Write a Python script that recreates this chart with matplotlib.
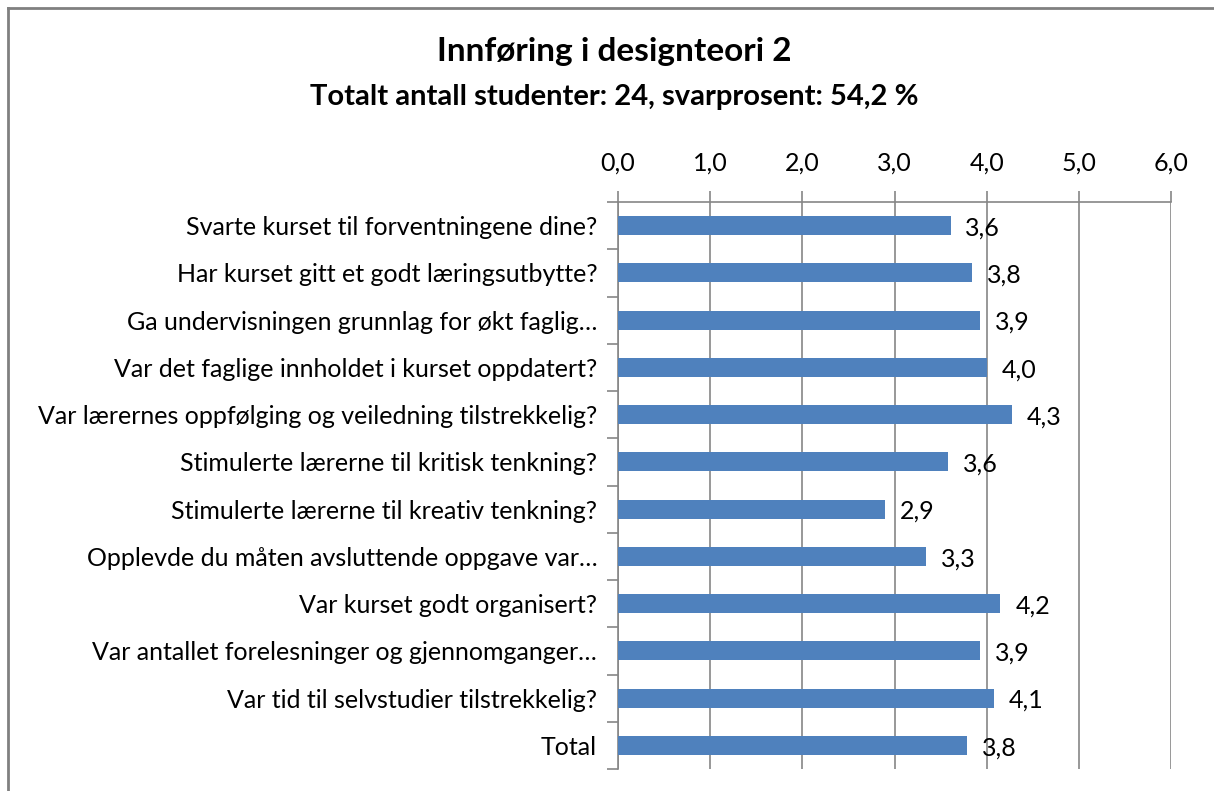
import matplotlib
matplotlib.use("Agg")
import matplotlib.pyplot as plt
from matplotlib.lines import Line2D

# survey questions, top to bottom
questions = [
    "Svarte kurset til forventningene dine?",
    "Har kurset gitt et godt læringsutbytte?",
    "Ga undervisningen grunnlag for økt faglig…",
    "Var det faglige innholdet i kurset oppdatert?",
    "Var lærernes oppfølging og veiledning tilstrekkelig?",
    "Stimulerte lærerne til kritisk tenkning?",
    "Stimulerte lærerne til kreativ tenkning?",
    "Opplevde du måten avsluttende oppgave var…",
    "Var kurset godt organisert?",
    "Var antallet forelesninger og gjennomganger…",
    "Var tid til selvstudier tilstrekkelig?",
    "Total",
]
scores = [3.61, 3.84, 3.93, 4.00, 4.27, 3.58, 2.90, 3.34, 4.15, 3.93, 4.08, 3.79]
x_ticks = [0, 1, 2, 3, 4, 5, 6]

title = "Innføring i designteori 2"
subtitle = "Totalt antall studenter: 24, svarprosent: 54,2 %"

W, H = 1214, 791
plt.rcParams['font.family'] = ['Lato', 'DejaVu Sans']
fig = plt.figure(figsize=(W / 100, H / 100), dpi=100)
ax = fig.add_axes([618 / W, 1 - 769 / H, (1171 - 618) / W, (769 - 202) / H])

grid_col = "#868686"
bar_col = "#4F81BD"
fs = 18

y = list(range(len(questions)))
ax.barh(y, scores, height=0.4, color=bar_col, zorder=3)
for yi, v in zip(y, scores):
    ax.text(v + 0.16, yi + 0.05, f"{v:.1f}".replace(".", ","), va="center", ha="left",
            fontsize=fs, color="black", zorder=4)

ax.set_ylim(len(questions) - 0.5, -0.5)
ax.set_xlim(0, 6)
ax.set_xticks(x_ticks)
ax.set_xticklabels([f"{t:.1f}".replace(".", ",") for t in x_ticks], fontsize=fs)
ax.xaxis.tick_top()
ax.set_yticks(y)
ax.set_yticklabels(questions, fontsize=fs)
ax.tick_params(axis="y", length=0, pad=15)
ax.tick_params(axis="x", length=8, width=1.2, color=grid_col, pad=12)
# category boundary ticks on the left
ax.set_yticks([i - 0.5 for i in range(len(questions) + 1)], minor=True)
ax.tick_params(axis="y", which="minor", length=8, width=1.2, color=grid_col)

ax.grid(axis="x", color=grid_col, linewidth=1.2, zorder=0)
for s in ["right", "bottom"]:
    ax.spines[s].set_visible(False)
for s in ["left", "top"]:
    ax.spines[s].set_color(grid_col)
    ax.spines[s].set_linewidth(1.2)

fig.text(614 / W, 1 - 52 / H, title, ha="center", va="center", fontsize=24, fontweight="bold")
fig.text(614 / W, 1 - 97 / H, subtitle, ha="center", va="center", fontsize=21, fontweight="bold")

# outer chart frame
fig.add_artist(Line2D([8 / W, 8 / W], [0, 1 - 8 / H], transform=fig.transFigure, color="#808080", lw=2))
fig.add_artist(Line2D([8 / W, 1], [1 - 8 / H, 1 - 8 / H], transform=fig.transFigure, color="#808080", lw=2))

fig.savefig("out.png", dpi=100)
